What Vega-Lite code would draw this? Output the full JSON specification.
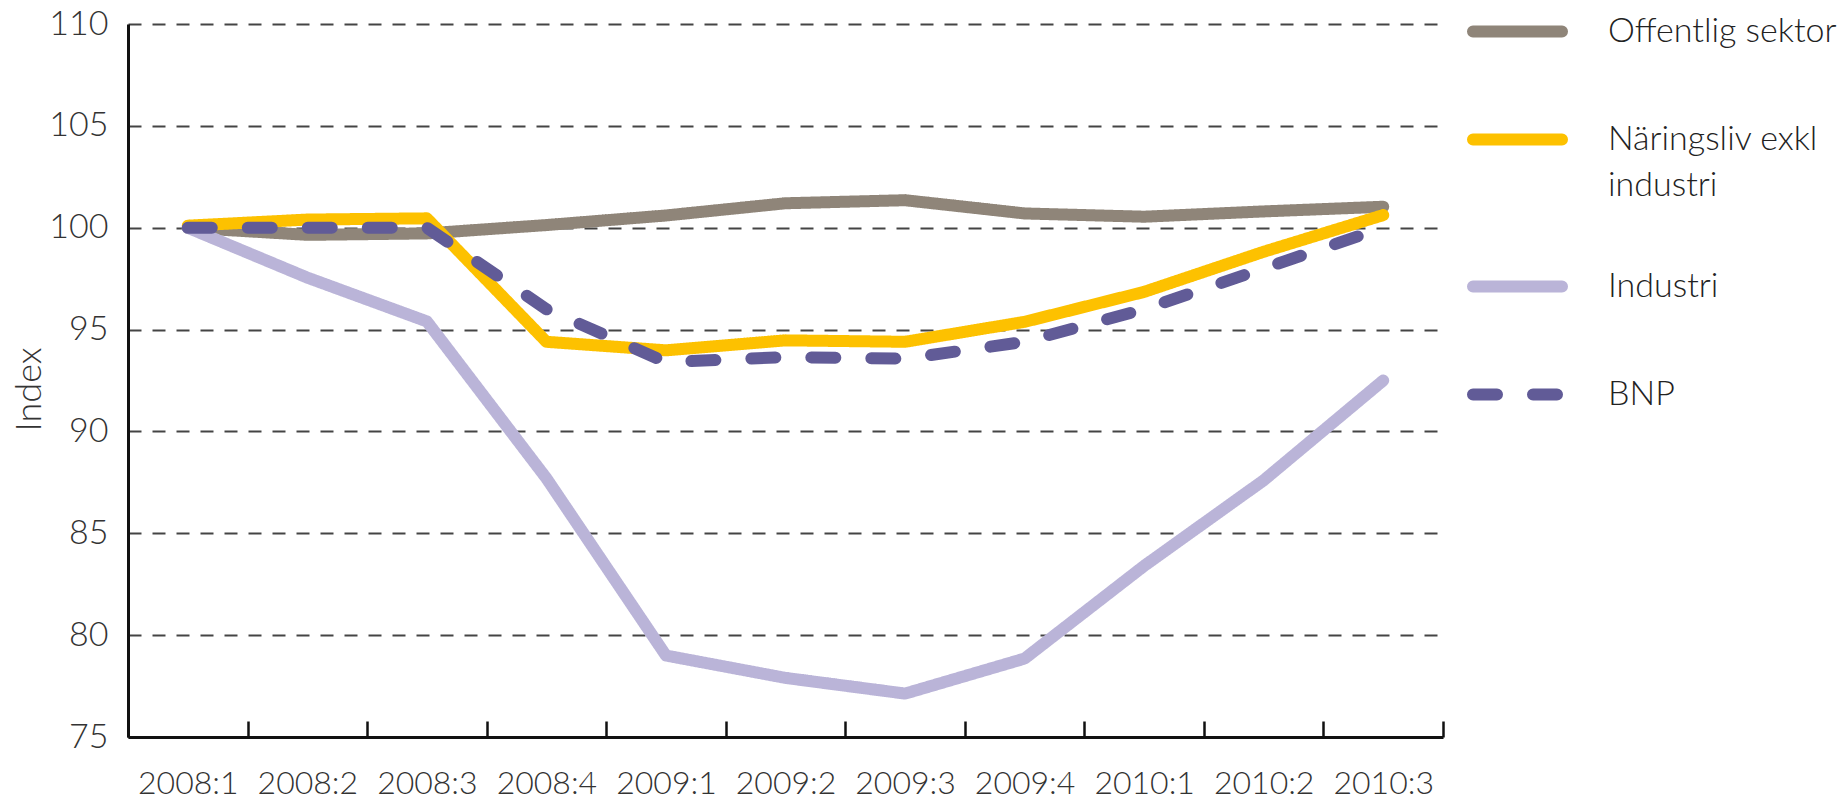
{
  "$schema": "https://vega.github.io/schema/vega-lite/v6.json",
  "width": 1315,
  "height": 713,
  "autosize": {"type": "none"},
  "padding": {"left": 128, "top": 24, "right": 398, "bottom": 62},
  "background": "white",
  "config": {"view": {"stroke": null}, "font": "Lato"},
  "data": {
    "values": [
      {"q": "2008:1", "s": "Offentlig sektor", "v": 100.0},
      {"q": "2008:2", "s": "Offentlig sektor", "v": 99.65},
      {"q": "2008:3", "s": "Offentlig sektor", "v": 99.72},
      {"q": "2008:4", "s": "Offentlig sektor", "v": 100.13},
      {"q": "2009:1", "s": "Offentlig sektor", "v": 100.6},
      {"q": "2009:2", "s": "Offentlig sektor", "v": 101.2},
      {"q": "2009:3", "s": "Offentlig sektor", "v": 101.35},
      {"q": "2009:4", "s": "Offentlig sektor", "v": 100.7},
      {"q": "2010:1", "s": "Offentlig sektor", "v": 100.54},
      {"q": "2010:2", "s": "Offentlig sektor", "v": 100.8},
      {"q": "2010:3", "s": "Offentlig sektor", "v": 101.03},
      {"q": "2008:1", "s": "Industri", "v": 100.0},
      {"q": "2008:2", "s": "Industri", "v": 97.55},
      {"q": "2008:3", "s": "Industri", "v": 95.4},
      {"q": "2008:4", "s": "Industri", "v": 87.7},
      {"q": "2009:1", "s": "Industri", "v": 79.0},
      {"q": "2009:2", "s": "Industri", "v": 77.9},
      {"q": "2009:3", "s": "Industri", "v": 77.13},
      {"q": "2009:4", "s": "Industri", "v": 78.85},
      {"q": "2010:1", "s": "Industri", "v": 83.4},
      {"q": "2010:2", "s": "Industri", "v": 87.6},
      {"q": "2010:3", "s": "Industri", "v": 92.5},
      {"q": "2008:1", "s": "Näringsliv exkl industri", "v": 100.1},
      {"q": "2008:2", "s": "Näringsliv exkl industri", "v": 100.4},
      {"q": "2008:3", "s": "Näringsliv exkl industri", "v": 100.46},
      {"q": "2008:4", "s": "Näringsliv exkl industri", "v": 94.4},
      {"q": "2009:1", "s": "Näringsliv exkl industri", "v": 93.98},
      {"q": "2009:2", "s": "Näringsliv exkl industri", "v": 94.47},
      {"q": "2009:3", "s": "Näringsliv exkl industri", "v": 94.4},
      {"q": "2009:4", "s": "Näringsliv exkl industri", "v": 95.38},
      {"q": "2010:1", "s": "Näringsliv exkl industri", "v": 96.85},
      {"q": "2010:2", "s": "Näringsliv exkl industri", "v": 98.82},
      {"q": "2010:3", "s": "Näringsliv exkl industri", "v": 100.62},
      {"q": "2008:1", "s": "BNP", "v": 100.0},
      {"q": "2008:2", "s": "BNP", "v": 100.0},
      {"q": "2008:3", "s": "BNP", "v": 100.0},
      {"q": "2008:4", "s": "BNP", "v": 96.0},
      {"q": "2009:1", "s": "BNP", "v": 93.4},
      {"q": "2009:2", "s": "BNP", "v": 93.65},
      {"q": "2009:3", "s": "BNP", "v": 93.57},
      {"q": "2009:4", "s": "BNP", "v": 94.4},
      {"q": "2010:1", "s": "BNP", "v": 96.0},
      {"q": "2010:2", "s": "BNP", "v": 98.0},
      {"q": "2010:3", "s": "BNP", "v": 100.0}
    ]
  },
  "mark": {"type": "line", "strokeCap": "round", "strokeJoin": "round", "strokeWidth": 12},
  "encoding": {
    "x": {
      "field": "q",
      "type": "ordinal",
      "sort": null,
      "scale": {"type": "band", "paddingInner": 0, "paddingOuter": 0},
      "axis": {
        "title": null,
        "labelAngle": 0,
        "tickBand": "extent",
        "tickSize": -16,
        "tickWidth": 2.5,
        "tickColor": "#111",
        "domainColor": "#111",
        "domainWidth": 3,
        "labelPadding": 62,
        "labelFontSize": 32,
        "labelFontWeight": 300,
        "labelColor": "#333",
        "labelBaseline": "middle",
        "grid": false,
        "zindex": 1
      }
    },
    "y": {
      "field": "v",
      "type": "quantitative",
      "scale": {"domain": [75, 110], "zero": false, "nice": false},
      "axis": {
        "values": [75, 80, 85, 90, 95, 100, 105, 110],
        "ticks": false,
        "grid": true,
        "gridDash": [13, 11],
        "gridColor": "#444",
        "gridWidth": 2,
        "domainColor": "#111",
        "domainWidth": 3,
        "labelPadding": 20,
        "labelFontSize": 34,
        "labelFontWeight": 300,
        "labelColor": "#333",
        "title": "Index",
        "titleFontSize": 36,
        "titleFontWeight": 300,
        "titleColor": "#333",
        "titleAngle": -90,
        "titleAlign": "center",
        "titleBaseline": "middle",
        "titleX": -99,
        "titleY": 365
      }
    },
    "color": {
      "field": "s",
      "type": "nominal",
      "scale": {
        "domain": ["Offentlig sektor", "Näringsliv exkl industri", "Industri", "BNP"],
        "range": ["#8f8579", "#fdc100", "#bab4d8", "#615b97"]
      },
      "legend": {
        "title": null,
        "orient": "none",
        "legendX": 1339,
        "legendY": -43,
        "padding": 0,
        "symbolType": "stroke",
        "symbolSize": 7921,
        "symbolStrokeWidth": 12,
        "labelFontSize": 34,
        "labelFontWeight": 300,
        "labelColor": "#222",
        "labelOffset": 40,
        "labelLimit": 400,
        "rowPadding": 33,
        "labelExpr": "datum.label == 'Näringsliv exkl industri' ? ['Näringsliv exkl', 'industri'] : datum.label",
        "encode": {
          "labels": {"update": {"lineHeight": {"value": 46}}},
          "symbols": {"update": {"strokeCap": {"value": "round"}}}
        }
      }
    },
    "strokeDash": {
      "field": "s",
      "type": "nominal",
      "scale": {
        "domain": ["Offentlig sektor", "Näringsliv exkl industri", "Industri", "BNP"],
        "range": [[1, 0], [1, 0], [1, 0], [24, 36]]
      },
      "legend": {
        "title": null,
        "orient": "none",
        "legendX": 1339,
        "legendY": -43,
        "padding": 0,
        "symbolType": "stroke",
        "symbolSize": 7921,
        "symbolStrokeWidth": 12,
        "labelFontSize": 34,
        "labelFontWeight": 300,
        "labelColor": "#222",
        "labelOffset": 40,
        "labelLimit": 400,
        "rowPadding": 33,
        "labelExpr": "datum.label == 'Näringsliv exkl industri' ? ['Näringsliv exkl', 'industri'] : datum.label",
        "encode": {
          "labels": {"update": {"lineHeight": {"value": 46}}},
          "symbols": {"update": {"strokeCap": {"value": "round"}}}
        }
      }
    }
  }
}
